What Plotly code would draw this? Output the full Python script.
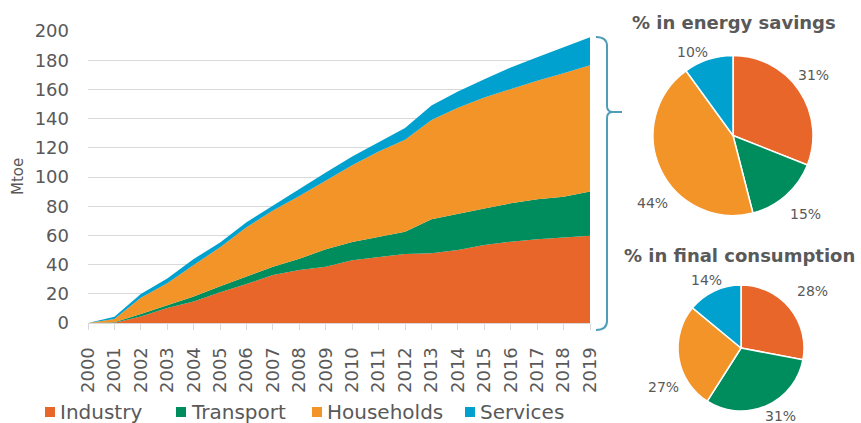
import plotly.graph_objects as go

# Cumulative energy savings by sector since 2000 (Mtoe)
years = list(range(2000, 2020))
industry = [0.0, 0.2, 4.5, 10.2, 14.7, 21.0, 26.7, 32.8, 36.3, 38.6,
            43.0, 45.4, 47.3, 47.7, 50.0, 53.4, 55.7, 57.3, 58.7, 59.8]
transport = [0.0, 0.3, 1.7, 1.9, 3.5, 4.2, 5.1, 5.8, 7.7, 11.9,
             12.5, 13.6, 15.2, 23.3, 25.0, 25.1, 26.3, 27.4, 27.8, 30.2]
households = [0.0, 2.3, 11.1, 15.2, 21.6, 26.6, 33.7, 38.4, 43.0, 47.0,
              52.5, 58.5, 63.0, 68.0, 72.5, 76.0, 78.5, 81.3, 84.5, 86.5]
services = [0.0, 1.4, 2.5, 3.1, 4.0, 3.4, 3.5, 3.5, 5.0, 5.5,
            6.0, 6.5, 8.0, 10.0, 11.0, 12.5, 14.5, 16.0, 18.0, 19.2]

sectors = ["Industry", "Transport", "Households", "Services"]
colors = ["#e9662a", "#008d5e", "#f29427", "#00a1cf"]

# Sector shares (%)
savings_share = [31, 15, 44, 10]
consumption_share = [28, 31, 27, 14]

FONT = "DejaVu Sans"
GREY = "#595959"
W, H = 861, 423


def fx(x):
    """pixel x -> paper fraction"""
    return x / W


def fy(y):
    """pixel y (from top) -> paper fraction"""
    return 1 - y / H


def note(text, x, y, size, **kw):
    return dict(text=text, x=fx(x), y=fy(y), xref="paper", yref="paper",
                xanchor=kw.pop("xanchor", "center"), yanchor=kw.pop("yanchor", "middle"),
                showarrow=False, font=dict(family=FONT, size=size, color=GREY), **kw)


fig = go.Figure()

for name, vals, col in zip(sectors, [industry, transport, households, services], colors):
    fig.add_trace(go.Scatter(
        x=years, y=vals, name=name, stackgroup="savings", mode="lines",
        line=dict(width=0, color=col), fillcolor=col, showlegend=False,
    ))

pie_common = dict(
    labels=sectors, sort=False, direction="clockwise", rotation=0,
    marker=dict(colors=colors, line=dict(color="white", width=1.5)),
    textinfo="none", showlegend=False, hoverinfo="label+percent",
)
fig.add_trace(go.Pie(values=savings_share,
                     domain=dict(x=[fx(653), fx(813)], y=[fy(215.5), fy(55.5)]),
                     **pie_common))
fig.add_trace(go.Pie(values=consumption_share,
                     domain=dict(x=[fx(678), fx(804)], y=[fy(411), fy(285)]),
                     **pie_common))

annotations = [
    note("Mtoe", 18, 177, 15, textangle=-90),
    note("<b>% in energy savings</b>", 734, 23, 18),
    note("<b>% in final consumption</b>", 739, 255, 18),
]

# percentage labels placed around each pie
savings_label_pos = [(813, 75), (805, 214), (652, 203), (692, 52)]
consumption_label_pos = [(812, 291), (780, 416), (663, 387), (706, 280)]
for shares, positions in [(savings_share, savings_label_pos),
                          (consumption_share, consumption_label_pos)]:
    for v, (lx, ly) in zip(shares, positions):
        annotations.append(note(f"{v}%", lx, ly, 14))

shapes = []
# legend swatches + labels
legend_x = [45, 176, 312, 465]
for name, col, lx in zip(sectors, colors, legend_x):
    shapes.append(dict(type="rect", xref="paper", yref="paper",
                       x0=fx(lx), x1=fx(lx + 10), y0=fy(417), y1=fy(407),
                       fillcolor=col, line=dict(width=0)))
    annotations.append(note(name, lx + 13, 412, 20, xanchor="left"))

# curly bracket linking the 2019 total to the pies
pts = {
    "M": (596, 37), "c1": (607, 37), "a": (607, 46), "b": (607, 106), "c2": (607, 112),
    "t": (613, 112), "tip": (622, 112), "c3": (607, 112), "d": (607, 118),
    "e": (607, 321), "c4": (607, 330), "f": (596, 330),
}


def p(k):
    x, y = pts[k]
    return f"{fx(x):.5f},{fy(y):.5f}"


path = (f"M {p('M')} Q {p('c1')} {p('a')} L {p('b')} Q {p('c2')} {p('t')} L {p('tip')} "
        f"M {p('t')} Q {p('c3')} {p('d')} L {p('e')} Q {p('c4')} {p('f')}")
shapes.append(dict(type="path", path=path, xref="paper", yref="paper",
                   line=dict(color="#4f9db8", width=2)))

fig.update_layout(
    width=W, height=H, autosize=False,
    margin=dict(l=0, r=0, t=0, b=0, pad=0),
    paper_bgcolor="white", plot_bgcolor="white",
    font=dict(family=FONT, color=GREY),
    xaxis=dict(domain=[fx(88), fx(590)], range=[2000, 2019], tickmode="array",
               tickvals=years, ticktext=[str(y) for y in years], tickangle=-90,
               tickfont=dict(family=FONT, size=18, color=GREY),
               ticks="outside", ticklen=6, tickcolor="#d9d9d9",
               showline=True, linecolor="#d9d9d9", linewidth=1,
               showgrid=False, zeroline=False, automargin=False,
               ticklabelstandoff=10, fixedrange=True),
    yaxis=dict(domain=[fy(323), fy(31)], range=[0, 200], dtick=20,
               tickfont=dict(family=FONT, size=18, color=GREY),
               showgrid=True, gridcolor="#d9d9d9", gridwidth=1,
               zeroline=False, showline=False, automargin=False,
               ticklabelstandoff=18, fixedrange=True),
    annotations=annotations,
    shapes=shapes,
)

fig.write_html("out.html")
